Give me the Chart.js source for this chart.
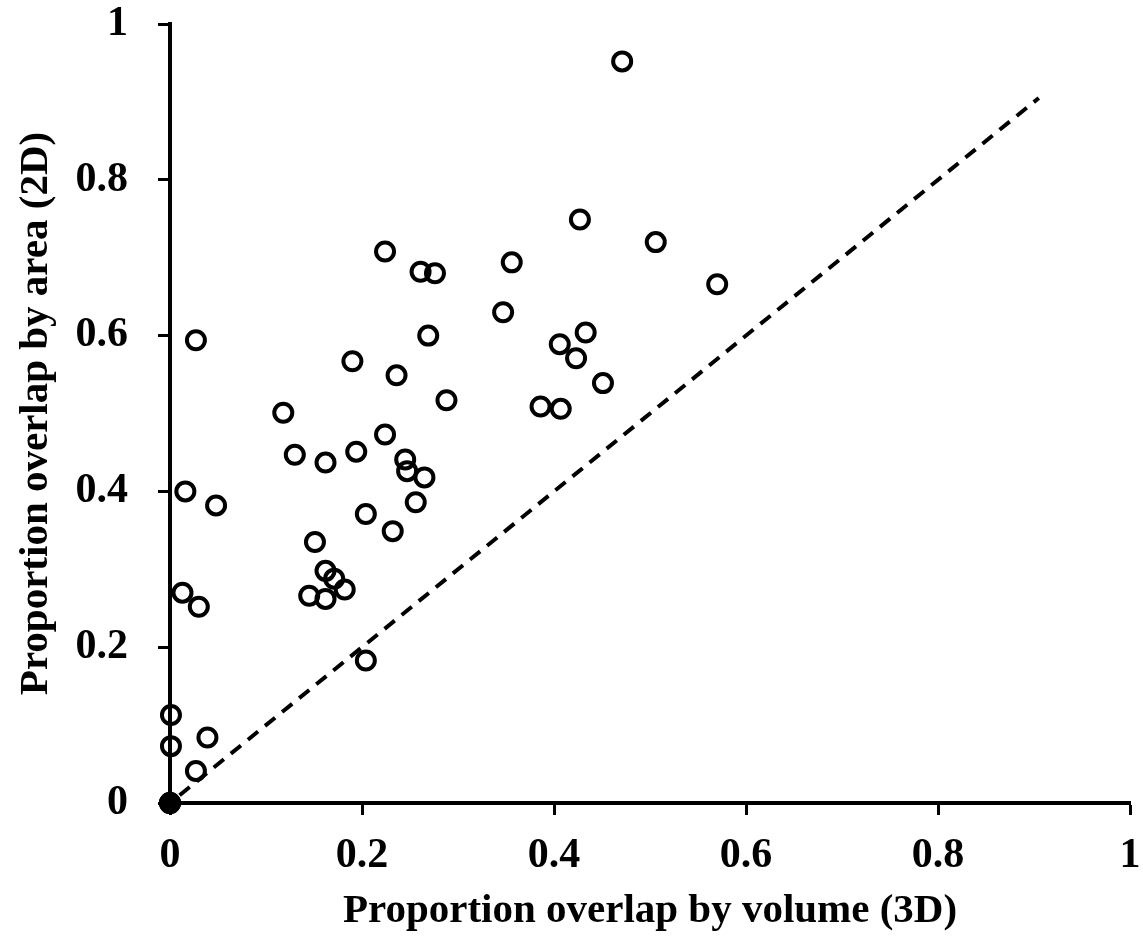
<!DOCTYPE html>
<html>
<head>
    <title>Proportion overlap</title>
    <script src="https://cdn.jsdelivr.net/npm/chart.js"></script>
    <style>
        body { margin: 0; background: #fff; }
        #wrap { width: 1143px; height: 937px; }
    </style>
</head>
<body>
    <div id="wrap"><canvas id="overlapChart"></canvas></div>

    <script>
        // proportion overlap by volume (3D) vs by area (2D)
        const volume3D = [0.471, 0.427, 0.506, 0.224, 0.261, 0.276, 0.356, 0.570, 0.347, 0.269,
                          0.433, 0.406, 0.027, 0.423, 0.190, 0.236, 0.451, 0.288, 0.386, 0.407,
                          0.118, 0.224, 0.130, 0.194, 0.162, 0.245, 0.247, 0.265, 0.016, 0.048,
                          0.256, 0.204, 0.232, 0.151, 0.162, 0.171, 0.182, 0.145, 0.162, 0.013,
                          0.030, 0.204, 0.001, 0.001, 0.039, 0.027];
        const area2D   = [0.952, 0.749, 0.720, 0.708, 0.682, 0.680, 0.694, 0.666, 0.630, 0.600,
                          0.604, 0.589, 0.594, 0.571, 0.567, 0.549, 0.539, 0.517, 0.509, 0.506,
                          0.501, 0.473, 0.447, 0.451, 0.437, 0.441, 0.426, 0.418, 0.400, 0.382,
                          0.386, 0.371, 0.349, 0.335, 0.298, 0.288, 0.274, 0.266, 0.262, 0.270,
                          0.252, 0.183, 0.113, 0.073, 0.084, 0.041];
        // several sites with no overlap at all pile up at the origin
        const zeroX = [0, 0, 0];
        const zeroY = [0, 0, 0];
        // the 1:1 reference line
        const lineX = [0.01, 0.905];
        const lineY = [0.01, 0.905];
        const tickValues = [0, 0.2, 0.4, 0.6, 0.8, 1];

        const toPoints = (xs, ys) => xs.map((x, i) => ({ x: x, y: ys[i] }));

        const tickFont = { family: 'Liberation Serif', size: 42, weight: 'bold' };
        const titleFont = { family: 'Liberation Serif', size: 41, weight: 'bold' };

        const ctx = document.getElementById('overlapChart').getContext('2d');
        const chart = new Chart(ctx, {
            type: 'scatter',
            data: {
                datasets: [{
                    type: 'line',
                    data: toPoints(lineX, lineY),
                    borderColor: '#000',
                    borderWidth: 4,
                    borderDash: [13, 9],
                    pointRadius: 0,
                    fill: false,
                    clip: false
                }, {
                    data: toPoints(volume3D, area2D),
                    pointRadius: 9,
                    pointBorderWidth: 4,
                    pointBorderColor: '#000',
                    pointBackgroundColor: 'rgba(0,0,0,0)',
                    clip: false
                }, {
                    data: toPoints(zeroX, zeroY),
                    pointRadius: 10,
                    pointBorderWidth: 2,
                    pointBorderColor: '#000',
                    pointBackgroundColor: '#000',
                    clip: false
                }]
            },
            options: {
                responsive: true,
                maintainAspectRatio: false,
                animation: false,
                layout: { padding: { top: 24, right: 13, left: 0, bottom: 0 } },
                plugins: { legend: { display: false }, tooltip: { enabled: false } },
                scales: {
                    x: {
                        type: 'linear',
                        min: 0,
                        max: 1,
                        afterFit: (scale) => {
                            scale.height = 134;
                            scale.paddingLeft = 0;
                            scale.paddingRight = 0;
                        },
                        afterBuildTicks: (scale) => { scale.ticks = tickValues.map(v => ({ value: v })); },
                        border: { color: '#000', width: 4 },
                        grid: { drawOnChartArea: false, drawTicks: true, tickLength: 12, tickColor: '#000', tickWidth: 3 },
                        ticks: {
                            color: '#000',
                            font: tickFont,
                            padding: 16,
                            maxRotation: 0,
                            callback: (v) => String(+v.toFixed(1))
                        },
                        title: {
                            display: true,
                            text: 'Proportion overlap by volume (3D)',
                            color: '#000',
                            font: titleFont,
                            padding: { top: 0, bottom: 1 }
                        }
                    },
                    y: {
                        type: 'linear',
                        min: 0,
                        max: 1,
                        afterFit: (scale) => {
                            scale.width = 170;
                            scale.paddingTop = 0;
                            scale.paddingBottom = 0;
                        },
                        afterBuildTicks: (scale) => { scale.ticks = tickValues.map(v => ({ value: v })); },
                        border: { color: '#000', width: 4 },
                        grid: { drawOnChartArea: false, drawTicks: true, tickLength: 12, tickColor: '#000', tickWidth: 3 },
                        ticks: {
                            color: '#000',
                            font: tickFont,
                            padding: 30,
                            callback: (v) => String(+v.toFixed(1))
                        },
                        title: {
                            display: true,
                            text: 'Proportion overlap by area (2D)',
                            color: '#000',
                            font: titleFont,
                            padding: { top: 12, bottom: 0 }
                        }
                    }
                }
            }
        });
    </script>
</body>
</html>
